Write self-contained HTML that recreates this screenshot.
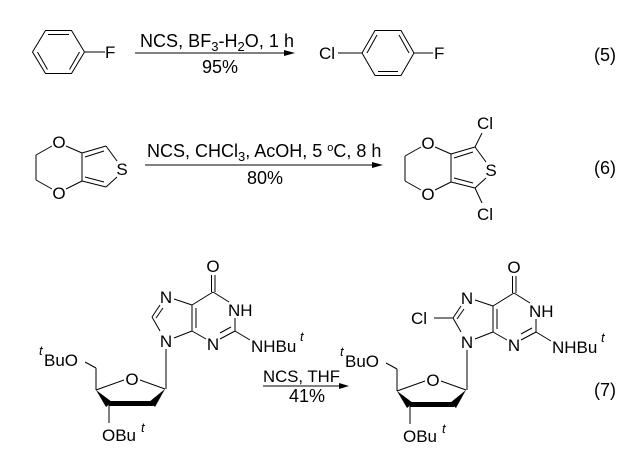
<!DOCTYPE html>
<html><head><meta charset="utf-8"><style>
html,body{margin:0;padding:0;background:#fff;}
svg{display:block;}
text{font-family:"Liberation Sans",Arial,sans-serif;font-size:17px;fill:#000;}
.r{font-size:18px;}
</style></head><body>
<svg width="631" height="451" viewBox="0 0 631 451" xmlns="http://www.w3.org/2000/svg">
<g stroke="#000" stroke-width="1" fill="none">
<polygon points="32.5,52 45.5,30.5 71.5,30.5 84.5,52 71.5,73.5 45.5,73.5"/>
<line x1="48" y1="34.5" x2="69" y2="34.5"/>
<line x1="79.5" y1="52" x2="69.5" y2="69.5"/>
<line x1="37.5" y1="52" x2="47.5" y2="69.5"/>
<line x1="84.5" y1="52" x2="105" y2="52"/>
<line x1="135" y1="53" x2="290" y2="53"/>
<polygon points="362,53 375,30.5 401,30.5 414,53 401,75.5 375,75.5"/>
<line x1="367" y1="53" x2="377" y2="35"/>
<line x1="399" y1="35" x2="409" y2="53"/>
<line x1="378" y1="71.5" x2="398" y2="71.5"/>
<line x1="338" y1="53" x2="362" y2="53"/>
<line x1="414" y1="53" x2="433" y2="53"/>
<line x1="52" y1="146" x2="36" y2="155"/>
<line x1="36" y1="155" x2="36" y2="180"/>
<line x1="36" y1="180" x2="52" y2="189"/>
<line x1="66" y1="146" x2="82" y2="153"/>
<line x1="66" y1="189" x2="82" y2="181"/>
<line x1="82" y1="153" x2="82" y2="181"/>
<line x1="82" y1="153" x2="106" y2="146"/>
<line x1="85" y1="157" x2="104" y2="151"/>
<line x1="106" y1="146" x2="117" y2="161"/>
<line x1="117" y1="177" x2="106" y2="187"/>
<line x1="106" y1="187" x2="82" y2="181"/>
<line x1="104" y1="182" x2="85" y2="177"/>
<line x1="145" y1="165" x2="378" y2="165"/>
<g transform="translate(369,1)">
<line x1="52" y1="146" x2="36" y2="155"/>
<line x1="36" y1="155" x2="36" y2="180"/>
<line x1="36" y1="180" x2="52" y2="189"/>
<line x1="66" y1="146" x2="82" y2="153"/>
<line x1="66" y1="189" x2="82" y2="181"/>
<line x1="82" y1="153" x2="82" y2="181"/>
<line x1="82" y1="153" x2="106" y2="146"/>
<line x1="85" y1="157" x2="104" y2="151"/>
<line x1="106" y1="146" x2="117" y2="161"/>
<line x1="117" y1="177" x2="106" y2="187"/>
<line x1="106" y1="187" x2="82" y2="181"/>
<line x1="104" y1="182" x2="85" y2="177"/>
<line x1="106" y1="146" x2="113" y2="132"/>
<line x1="106" y1="187" x2="113" y2="202"/>
</g>
<line x1="263" y1="386" x2="344" y2="386"/>
</g>
<g fill="#000">
<polygon points="295,53 284,50 284,56"/>
<polygon points="383,165 372,162 372,168"/>
<polygon points="349,386 339,383 339,389"/>
</g>

<defs>
<g id="mol">
<g stroke="#000" stroke-width="1" fill="none">
<line x1="211.5" y1="275" x2="211.5" y2="292"/>
<line x1="215" y1="275" x2="215" y2="292"/>
<line x1="213" y1="292" x2="192" y2="305"/>
<line x1="213" y1="292" x2="229" y2="302"/>
<line x1="235" y1="318" x2="235" y2="331"/>
<line x1="235" y1="331" x2="220" y2="339"/>
<line x1="231" y1="327" x2="220" y2="333"/>
<line x1="192" y1="331" x2="206" y2="339"/>
<line x1="192" y1="305" x2="192" y2="331"/>
<line x1="196" y1="308" x2="196" y2="328"/>
<line x1="192" y1="305" x2="174" y2="299"/>
<line x1="160" y1="305" x2="152" y2="317"/>
<line x1="163" y1="308" x2="156" y2="318"/>
<line x1="152" y1="317" x2="160" y2="331"/>
<line x1="192" y1="331" x2="174" y2="338"/>
<line x1="235" y1="331" x2="250" y2="340"/>
<line x1="166" y1="349" x2="166" y2="389"/>
<line x1="165" y1="389" x2="140" y2="380"/>
<line x1="124" y1="380" x2="96" y2="390"/>
<line x1="96" y1="390" x2="96" y2="368"/>
<line x1="96" y1="368" x2="85" y2="362"/>
<line x1="109" y1="405" x2="109" y2="423"/>
</g>
<polygon fill="#000" points="96,390 106,407 112,402"/>
<polygon fill="#000" points="108,401 153,401 153,406 109,406"/>
<polygon fill="#000" points="165,389 149,402 155,407"/>
<text x="213" y="272" text-anchor="middle">O</text>
<text x="228" y="316">NH</text>
<text x="213" y="350" text-anchor="middle">N</text>
<text x="166" y="303" text-anchor="middle">N</text>
<text x="166" y="347" text-anchor="middle">N</text>
<text x="251" y="352">NHBu</text>
<text x="300" y="341" style="font-size:13px;font-style:italic">t</text>
<text x="39" y="355" style="font-size:13px;font-style:italic">t</text>
<text x="44" y="366">BuO</text>
<text x="132" y="385" text-anchor="middle">O</text>
<text x="102" y="441">OBu</text>
<text x="141" y="432" style="font-size:13px;font-style:italic">t</text>
</g>
</defs>
<use href="#mol"/>
<g transform="translate(301,1)">
<use href="#mol"/>
<line x1="152" y1="317" x2="133" y2="317" stroke="#000" stroke-width="1"/>
<text x="110" y="323">Cl</text>
</g>

<text x="105" y="58">F</text>
<text class="r" x="140" y="47" textLength="154" lengthAdjust="spacing">NCS, BF<tspan style="font-size:13px" dy="4">3</tspan><tspan dy="-4">-H</tspan><tspan style="font-size:13px" dy="4">2</tspan><tspan dy="-4">O, 1 h</tspan></text>
<text class="r" x="220" y="73" text-anchor="middle">95%</text>
<text x="319" y="59">Cl</text>
<text x="434" y="59">F</text>
<text x="594" y="61" style="font-size:18px">(5)</text>

<text x="59" y="148" text-anchor="middle">O</text>
<text x="59" y="199" text-anchor="middle">O</text>
<text x="122" y="175" text-anchor="middle">S</text>
<text class="r" x="147" y="157">NCS, CHCl<tspan style="font-size:13px" dy="4">3</tspan><tspan dy="-4">, AcOH, 5 </tspan><tspan style="font-size:11px" dy="-6">o</tspan><tspan dy="6">C, 8 h</tspan></text>
<text class="r" x="265" y="184" text-anchor="middle">80%</text>
<text x="428" y="149" text-anchor="middle">O</text>
<text x="428" y="200" text-anchor="middle">O</text>
<text x="491" y="176" text-anchor="middle">S</text>
<text x="477" y="129">Cl</text>
<text x="477" y="220">Cl</text>
<text x="594" y="174" style="font-size:18px">(6)</text>

<text x="263" y="382" textLength="77" lengthAdjust="spacingAndGlyphs">NCS, THF</text>
<text class="r" x="307" y="402" text-anchor="middle">41%</text>
<text x="594" y="396" style="font-size:18px">(7)</text>
</svg>
</body></html>
